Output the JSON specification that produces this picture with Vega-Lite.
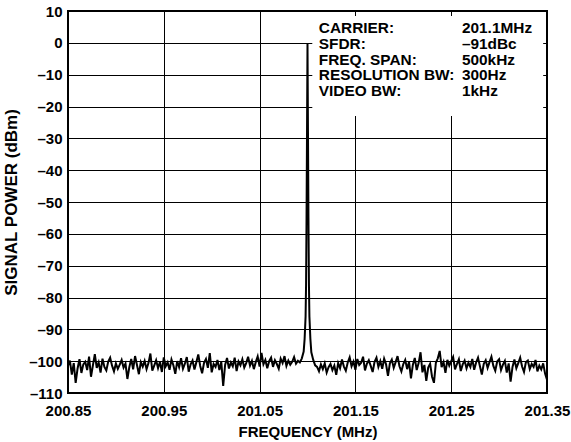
{
  "$schema": "https://vega.github.io/schema/vega-lite/v6.json",
  "width": 479,
  "height": 382,
  "autosize": "none",
  "padding": {"left": 68, "top": 11, "right": 24, "bottom": 49},
  "background": "white",
  "config": {
    "view": {"stroke": "black", "strokeWidth": 2},
    "font": "Liberation Sans",
    "axis": {
      "grid": true, "gridColor": "black", "gridOpacity": 1, "gridWidth": 1,
      "domain": false, "ticks": false, "tickSize": 0,
      "labelFont": "Liberation Sans", "labelFontWeight": "bold", "labelFontSize": 15, "labelColor": "black",
      "titleFont": "Liberation Sans", "titleFontWeight": "bold", "titleColor": "black"
    }
  },
  "datasets": {
    "spectrum": [
    {"freq": 200.850, "dbm": -101.5}, {"freq": 200.852, "dbm": -99.8}, {"freq": 200.854, "dbm": -104.2}, {"freq": 200.856, "dbm": -100.6},
    {"freq": 200.858, "dbm": -106.8}, {"freq": 200.860, "dbm": -102.3}, {"freq": 200.862, "dbm": -99.4}, {"freq": 200.864, "dbm": -103.7},
    {"freq": 200.866, "dbm": -101.0}, {"freq": 200.868, "dbm": -100.2}, {"freq": 200.870, "dbm": -102.8}, {"freq": 200.872, "dbm": -98.6},
    {"freq": 200.874, "dbm": -104.9}, {"freq": 200.876, "dbm": -101.3}, {"freq": 200.878, "dbm": -97.8}, {"freq": 200.880, "dbm": -102.1},
    {"freq": 200.882, "dbm": -100.4}, {"freq": 200.884, "dbm": -103.6}, {"freq": 200.886, "dbm": -99.2}, {"freq": 200.888, "dbm": -101.8},
    {"freq": 200.890, "dbm": -102.9}, {"freq": 200.892, "dbm": -100.1}, {"freq": 200.894, "dbm": -98.9}, {"freq": 200.896, "dbm": -101.4},
    {"freq": 200.898, "dbm": -103.2}, {"freq": 200.900, "dbm": -100.7}, {"freq": 200.902, "dbm": -102.4}, {"freq": 200.904, "dbm": -101.1},
    {"freq": 200.906, "dbm": -99.6}, {"freq": 200.908, "dbm": -102.0}, {"freq": 200.910, "dbm": -100.8}, {"freq": 200.912, "dbm": -105.6},
    {"freq": 200.914, "dbm": -101.9}, {"freq": 200.916, "dbm": -99.3}, {"freq": 200.918, "dbm": -102.6}, {"freq": 200.920, "dbm": -98.4},
    {"freq": 200.922, "dbm": -101.2}, {"freq": 200.924, "dbm": -104.1}, {"freq": 200.926, "dbm": -100.3}, {"freq": 200.928, "dbm": -101.7},
    {"freq": 200.930, "dbm": -99.9}, {"freq": 200.932, "dbm": -102.5}, {"freq": 200.934, "dbm": -100.6}, {"freq": 200.936, "dbm": -97.6},
    {"freq": 200.938, "dbm": -103.0}, {"freq": 200.940, "dbm": -101.4}, {"freq": 200.942, "dbm": -99.7}, {"freq": 200.944, "dbm": -102.2},
    {"freq": 200.946, "dbm": -100.2}, {"freq": 200.948, "dbm": -103.4}, {"freq": 200.950, "dbm": -98.8}, {"freq": 200.952, "dbm": -101.6},
    {"freq": 200.954, "dbm": -100.4}, {"freq": 200.956, "dbm": -102.7}, {"freq": 200.958, "dbm": -99.5}, {"freq": 200.960, "dbm": -101.3},
    {"freq": 200.962, "dbm": -104.0}, {"freq": 200.964, "dbm": -100.0}, {"freq": 200.966, "dbm": -101.9}, {"freq": 200.968, "dbm": -99.1},
    {"freq": 200.970, "dbm": -102.4}, {"freq": 200.972, "dbm": -100.8}, {"freq": 200.974, "dbm": -98.7}, {"freq": 200.976, "dbm": -103.3},
    {"freq": 200.978, "dbm": -101.0}, {"freq": 200.980, "dbm": -99.8}, {"freq": 200.982, "dbm": -102.6}, {"freq": 200.984, "dbm": -100.3},
    {"freq": 200.986, "dbm": -97.9}, {"freq": 200.988, "dbm": -101.5}, {"freq": 200.990, "dbm": -103.8}, {"freq": 200.992, "dbm": -100.5},
    {"freq": 200.994, "dbm": -99.3}, {"freq": 200.996, "dbm": -102.1}, {"freq": 200.998, "dbm": -97.5}, {"freq": 201.000, "dbm": -103.5},
    {"freq": 201.002, "dbm": -100.9}, {"freq": 201.004, "dbm": -101.8}, {"freq": 201.006, "dbm": -99.6}, {"freq": 201.008, "dbm": -102.8},
    {"freq": 201.010, "dbm": -100.2}, {"freq": 201.012, "dbm": -107.8}, {"freq": 201.014, "dbm": -101.2}, {"freq": 201.016, "dbm": -99.0},
    {"freq": 201.018, "dbm": -102.3}, {"freq": 201.020, "dbm": -100.4}, {"freq": 201.022, "dbm": -101.6}, {"freq": 201.024, "dbm": -98.9},
    {"freq": 201.026, "dbm": -103.1}, {"freq": 201.028, "dbm": -100.1}, {"freq": 201.030, "dbm": -101.3}, {"freq": 201.032, "dbm": -99.4},
    {"freq": 201.034, "dbm": -102.0}, {"freq": 201.036, "dbm": -100.6}, {"freq": 201.038, "dbm": -98.6}, {"freq": 201.040, "dbm": -101.4},
    {"freq": 201.042, "dbm": -99.9}, {"freq": 201.044, "dbm": -102.5}, {"freq": 201.046, "dbm": -100.3}, {"freq": 201.048, "dbm": -98.5},
    {"freq": 201.050, "dbm": -101.7}, {"freq": 201.052, "dbm": -97.4}, {"freq": 201.054, "dbm": -101.0}, {"freq": 201.056, "dbm": -99.6},
    {"freq": 201.058, "dbm": -102.2}, {"freq": 201.060, "dbm": -100.0}, {"freq": 201.062, "dbm": -98.9}, {"freq": 201.064, "dbm": -101.8},
    {"freq": 201.066, "dbm": -99.7}, {"freq": 201.068, "dbm": -100.9}, {"freq": 201.070, "dbm": -102.4}, {"freq": 201.072, "dbm": -99.2},
    {"freq": 201.074, "dbm": -100.6}, {"freq": 201.076, "dbm": -98.4}, {"freq": 201.078, "dbm": -101.5}, {"freq": 201.080, "dbm": -99.8},
    {"freq": 201.082, "dbm": -101.1}, {"freq": 201.084, "dbm": -100.2}, {"freq": 201.086, "dbm": -98.7}, {"freq": 201.088, "dbm": -100.8},
    {"freq": 201.090, "dbm": -99.9},
    {"freq": 201.092, "dbm": -100.4}, {"freq": 201.094, "dbm": -99.2}, {"freq": 201.096, "dbm": -97.0}, {"freq": 201.097, "dbm": -93.0},
    {"freq": 201.098, "dbm": -86.0}, {"freq": 201.0985, "dbm": -76.0}, {"freq": 201.099, "dbm": -55.0}, {"freq": 201.0995, "dbm": -28.0},
    {"freq": 201.100, "dbm": -0.3},
    {"freq": 201.1005, "dbm": -28.0}, {"freq": 201.101, "dbm": -55.0}, {"freq": 201.1015, "dbm": -76.0}, {"freq": 201.102, "dbm": -86.0},
    {"freq": 201.103, "dbm": -93.0}, {"freq": 201.104, "dbm": -97.2}, {"freq": 201.106, "dbm": -99.6}, {"freq": 201.108, "dbm": -101.3},
    {"freq": 201.110, "dbm": -101.8}, {"freq": 201.112, "dbm": -103.2}, {"freq": 201.114, "dbm": -101.0}, {"freq": 201.116, "dbm": -102.5},
    {"freq": 201.118, "dbm": -100.7}, {"freq": 201.120, "dbm": -103.6}, {"freq": 201.122, "dbm": -101.9}, {"freq": 201.124, "dbm": -100.9},
    {"freq": 201.126, "dbm": -102.8}, {"freq": 201.128, "dbm": -101.4}, {"freq": 201.130, "dbm": -104.3}, {"freq": 201.132, "dbm": -100.6},
    {"freq": 201.134, "dbm": -102.2}, {"freq": 201.136, "dbm": -99.5}, {"freq": 201.138, "dbm": -101.7}, {"freq": 201.140, "dbm": -103.0},
    {"freq": 201.142, "dbm": -100.4}, {"freq": 201.144, "dbm": -98.8}, {"freq": 201.146, "dbm": -101.6}, {"freq": 201.148, "dbm": -100.1},
    {"freq": 201.150, "dbm": -102.7}, {"freq": 201.152, "dbm": -99.3}, {"freq": 201.154, "dbm": -101.2}, {"freq": 201.156, "dbm": -100.5},
    {"freq": 201.158, "dbm": -98.6}, {"freq": 201.160, "dbm": -102.9}, {"freq": 201.162, "dbm": -100.8}, {"freq": 201.164, "dbm": -99.7},
    {"freq": 201.166, "dbm": -101.5}, {"freq": 201.168, "dbm": -103.4}, {"freq": 201.170, "dbm": -100.2}, {"freq": 201.172, "dbm": -98.9},
    {"freq": 201.174, "dbm": -101.8}, {"freq": 201.176, "dbm": -100.0}, {"freq": 201.178, "dbm": -102.4}, {"freq": 201.180, "dbm": -99.2},
    {"freq": 201.182, "dbm": -101.0}, {"freq": 201.184, "dbm": -104.6}, {"freq": 201.186, "dbm": -100.7}, {"freq": 201.188, "dbm": -99.5},
    {"freq": 201.190, "dbm": -102.1}, {"freq": 201.192, "dbm": -100.3}, {"freq": 201.194, "dbm": -98.4}, {"freq": 201.196, "dbm": -101.6},
    {"freq": 201.198, "dbm": -103.2}, {"freq": 201.200, "dbm": -100.9}, {"freq": 201.202, "dbm": -99.6}, {"freq": 201.204, "dbm": -102.5},
    {"freq": 201.206, "dbm": -100.2}, {"freq": 201.208, "dbm": -105.4}, {"freq": 201.210, "dbm": -101.1}, {"freq": 201.212, "dbm": -99.0},
    {"freq": 201.214, "dbm": -102.8}, {"freq": 201.216, "dbm": -100.6}, {"freq": 201.218, "dbm": -97.2}, {"freq": 201.220, "dbm": -103.5},
    {"freq": 201.222, "dbm": -101.2}, {"freq": 201.224, "dbm": -106.2}, {"freq": 201.226, "dbm": -102.0}, {"freq": 201.228, "dbm": -100.8},
    {"freq": 201.230, "dbm": -104.9}, {"freq": 201.232, "dbm": -106.8}, {"freq": 201.234, "dbm": -100.5}, {"freq": 201.236, "dbm": -99.1},
    {"freq": 201.238, "dbm": -96.8}, {"freq": 201.240, "dbm": -101.9}, {"freq": 201.242, "dbm": -100.3}, {"freq": 201.244, "dbm": -103.7},
    {"freq": 201.246, "dbm": -99.6}, {"freq": 201.248, "dbm": -101.4}, {"freq": 201.250, "dbm": -100.0}, {"freq": 201.252, "dbm": -98.7},
    {"freq": 201.254, "dbm": -102.6}, {"freq": 201.256, "dbm": -100.9}, {"freq": 201.258, "dbm": -99.4}, {"freq": 201.260, "dbm": -103.1},
    {"freq": 201.262, "dbm": -101.0}, {"freq": 201.264, "dbm": -99.8}, {"freq": 201.266, "dbm": -102.3}, {"freq": 201.268, "dbm": -100.5},
    {"freq": 201.270, "dbm": -101.8}, {"freq": 201.272, "dbm": -99.3}, {"freq": 201.274, "dbm": -102.7}, {"freq": 201.276, "dbm": -100.4},
    {"freq": 201.278, "dbm": -98.9}, {"freq": 201.280, "dbm": -101.6}, {"freq": 201.282, "dbm": -104.2}, {"freq": 201.284, "dbm": -100.8},
    {"freq": 201.286, "dbm": -99.7}, {"freq": 201.288, "dbm": -102.1}, {"freq": 201.290, "dbm": -100.3}, {"freq": 201.292, "dbm": -98.6},
    {"freq": 201.294, "dbm": -101.5}, {"freq": 201.296, "dbm": -103.0}, {"freq": 201.298, "dbm": -100.1}, {"freq": 201.300, "dbm": -99.4},
    {"freq": 201.302, "dbm": -102.8}, {"freq": 201.304, "dbm": -101.1}, {"freq": 201.306, "dbm": -99.9}, {"freq": 201.308, "dbm": -103.6},
    {"freq": 201.310, "dbm": -100.7}, {"freq": 201.312, "dbm": -106.4}, {"freq": 201.314, "dbm": -101.8}, {"freq": 201.316, "dbm": -99.5},
    {"freq": 201.318, "dbm": -102.2}, {"freq": 201.320, "dbm": -100.6}, {"freq": 201.322, "dbm": -98.9}, {"freq": 201.324, "dbm": -101.7},
    {"freq": 201.326, "dbm": -103.4}, {"freq": 201.328, "dbm": -100.3}, {"freq": 201.330, "dbm": -99.8}, {"freq": 201.332, "dbm": -102.5},
    {"freq": 201.334, "dbm": -100.9}, {"freq": 201.336, "dbm": -101.8}, {"freq": 201.338, "dbm": -99.6}, {"freq": 201.340, "dbm": -103.2},
    {"freq": 201.342, "dbm": -101.4}, {"freq": 201.344, "dbm": -102.6}, {"freq": 201.346, "dbm": -100.7}, {"freq": 201.348, "dbm": -103.9},
    {"freq": 201.350, "dbm": -105.8}
    ],
    "legend": [
      {"row": 1, "label": "CARRIER:", "value": "201.1MHz"},
      {"row": 2, "label": "SFDR:", "value": "–91dBc"},
      {"row": 3, "label": "FREQ. SPAN:", "value": "500kHz"},
      {"row": 4, "label": "RESOLUTION BW:", "value": "300Hz"},
      {"row": 5, "label": "VIDEO BW:", "value": "1kHz"}
    ]
  },
  "resolve": {"scale": {"x": "independent", "y": "independent"}, "axis": {"x": "independent", "y": "independent"}},
  "layer": [
    {
      "data": {"name": "spectrum"},
      "mark": {"type": "line", "color": "black", "strokeWidth": 2, "interpolate": "linear"},
      "encoding": {
        "x": {
          "field": "freq", "type": "quantitative",
          "scale": {"domain": [200.85, 201.35], "nice": false, "zero": false},
          "axis": {
            "values": [200.85, 200.95, 201.05, 201.15, 201.25, 201.35],
            "format": ".2f", "labelFlush": false, "labelOverlap": false, "labelPadding": 10,
            "title": "FREQUENCY (MHz)", "titleFontSize": 15, "titlePadding": 6
          }
        },
        "y": {
          "field": "dbm", "type": "quantitative",
          "scale": {"domain": [-110, 10], "nice": false, "zero": false},
          "axis": {
            "values": [-110, -100, -90, -80, -70, -60, -50, -40, -30, -20, -10, 0, 10],
            "labelExpr": "datum.value < 0 ? '–' + abs(datum.value) : '' + datum.value",
            "labelPadding": 6, "labelOverlap": false, "labelFlush": false,
            "title": "SIGNAL POWER (dBm)", "titleFontSize": 17, "titlePadding": 8
          }
        }
      }
    },
    {
      "data": {"values": [{"item": "legend box"}]},
      "mark": {"type": "rect", "fill": "white", "strokeWidth": 0},
      "encoding": {
        "x": {"datum": 201.105, "type": "quantitative", "scale": {"domain": [200.85, 201.35], "nice": false, "zero": false}, "axis": null},
        "x2": {"datum": 201.346},
        "y": {"datum": 8.4, "type": "quantitative", "scale": {"domain": [-110, 10], "nice": false, "zero": false}, "axis": null},
        "y2": {"datum": -23}
      }
    },
    {
      "data": {"name": "legend"},
      "mark": {
        "type": "text", "align": "left", "baseline": "alphabetic",
        "font": "Liberation Sans", "fontWeight": "bold", "fontSize": 15.4, "color": "black"
      },
      "encoding": {
        "text": {"field": "label", "type": "nominal"},
        "x": {"datum": 201.1118, "type": "quantitative", "scale": {"domain": [200.85, 201.35], "nice": false, "zero": false}, "axis": null},
        "y": {"field": "row", "type": "quantitative", "scale": {"domain": [-0.436, 24.051], "reverse": true, "nice": false, "zero": false}, "axis": null}
      }
    },
    {
      "data": {"name": "legend"},
      "mark": {
        "type": "text", "align": "left", "baseline": "alphabetic",
        "font": "Liberation Sans", "fontWeight": "bold", "fontSize": 15.4, "color": "black"
      },
      "encoding": {
        "text": {"field": "value", "type": "nominal"},
        "x": {"datum": 201.2612, "type": "quantitative", "scale": {"domain": [200.85, 201.35], "nice": false, "zero": false}, "axis": null},
        "y": {"field": "row", "type": "quantitative", "scale": {"domain": [-0.436, 24.051], "reverse": true, "nice": false, "zero": false}, "axis": null}
      }
    }
  ]
}
